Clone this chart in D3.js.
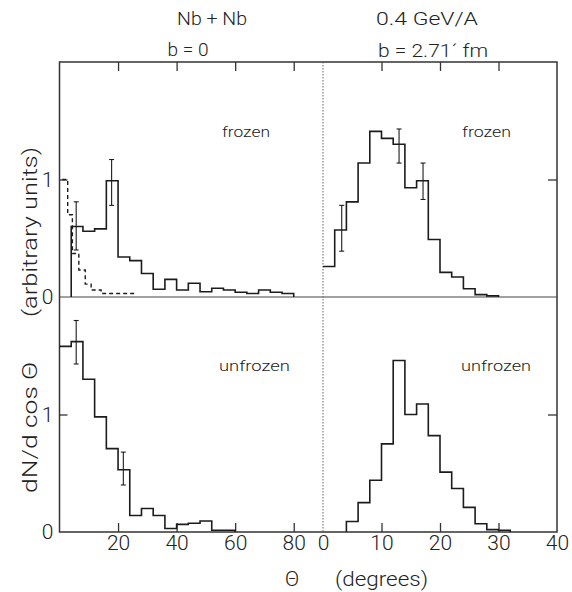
<!DOCTYPE html>
<html>
<head>
<meta charset="utf-8">
<script src="https://cdn.jsdelivr.net/npm/d3@7"></script>
<style>
  html, body { margin: 0; padding: 0; background: #fff; }
  svg { display: block; }
  text { font-family: Roboto, "Liberation Sans", Arial, sans-serif; font-weight: 300; fill: #222; }
</style>
</head>
<body>
<svg id="chart" width="572" height="592"></svg>
<script>
// ---------------- data ----------------
// top-left: b = 0, frozen (solid histogram, 4-degree bins)
const frozenB0Edges = [4, 8, 12, 16, 20, 24, 28, 32, 36, 40, 44, 48, 52, 56, 60, 64, 68, 72, 76, 80];
const frozenB0Values = [0.60, 0.56, 0.58, 0.99, 0.34, 0.31, 0.20, 0.066, 0.15, 0.06, 0.117, 0.045, 0.074, 0.06, 0.04, 0.03, 0.06, 0.04, 0.03];
// top-left: dashed histogram
const dashedB0Edges = [0.9, 2.8, 4.4, 6.6, 8.8, 10.8, 14.2, 26.5];
const dashedB0Values = [1.0, 0.70, 0.37, 0.23, 0.11, 0.06, 0.03];
// top-left error bars
const errFrozenB0Theta = [5.7, 17.8];
const errFrozenB0Lo = [0.40, 0.78];
const errFrozenB0Hi = [0.81, 1.17];

// top-right: b = 2.71 fm, frozen (2-degree bins)
const frozenB271Edges = [0, 2, 4, 6, 8, 10, 12, 14, 16, 18, 20, 22, 24, 26, 28, 30];
const frozenB271Values = [0.26, 0.57, 0.81, 1.14, 1.41, 1.35, 1.30, 0.93, 0.99, 0.49, 0.21, 0.17, 0.07, 0.02, 0.01];
const errFrozenB271Theta = [3.2, 13.0, 17.1];
const errFrozenB271Lo = [0.39, 1.14, 0.83];
const errFrozenB271Hi = [0.78, 1.43, 1.14];

// bottom-left: b = 0, unfrozen (4-degree bins)
const unfrozenB0Edges = [0, 4, 8, 12, 16, 20, 24, 28, 32, 36, 40, 44, 48, 52, 56, 60];
const unfrozenB0Values = [1.58, 1.62, 1.30, 0.98, 0.71, 0.53, 0.14, 0.20, 0.14, 0.03, 0.065, 0.075, 0.093, 0.015, 0.015];
const errUnfrozenB0Theta = [5.7, 21.8];
const errUnfrozenB0Lo = [1.43, 0.40];
const errUnfrozenB0Hi = [1.80, 0.68];

// bottom-right: b = 2.71 fm, unfrozen (2-degree bins)
const unfrozenB271Edges = [4, 6, 8, 10, 12, 14, 16, 18, 20, 22, 24, 26, 28, 30, 32];
const unfrozenB271Values = [0.09, 0.25, 0.44, 0.75, 1.46, 1.00, 1.09, 0.82, 0.51, 0.37, 0.21, 0.07, 0.02, 0.015];

// tick values / labels
const leftXTicks = [20, 40, 60, 80];
const rightXLabelTicks = [0, 10, 20, 30, 40];
const rightXTicks = [10, 20, 30];
const yLabelTicks = [0, 1];

// ---------------- layout ----------------
const svg = d3.select("#chart");
const L = 59.5, R = 557, M = 323, T = 62, H = 297, B = 532;

const xL = d3.scaleLinear().domain([0, 90]).range([L, M]);
const xR = d3.scaleLinear().domain([0, 40]).range([M, R]);
const yT = d3.scaleLinear().domain([0, 2]).range([H, T]);
const yB = d3.scaleLinear().domain([0, 2]).range([B, H]);

const ink = "#1c1c1c";
const FONT = "Roboto, 'Liberation Sans', Arial, sans-serif";

// frame
svg.append("rect").attr("x", L).attr("y", T).attr("width", R - L).attr("height", B - T)
  .attr("fill", "none").attr("stroke", "#333").attr("stroke-width", 1.5);
// middle horizontal line
svg.append("line").attr("x1", L).attr("x2", R).attr("y1", H).attr("y2", H)
  .attr("stroke", "#444").attr("stroke-width", 1);
// vertical divider (dotted)
svg.append("line").attr("x1", M).attr("x2", M).attr("y1", T).attr("y2", B)
  .attr("stroke", "#666").attr("stroke-width", 1).attr("stroke-dasharray", "1.5,1.5");

// ---------------- axes ----------------
function styleAxis(g) {
  g.select(".domain").remove();
  g.selectAll(".tick line").attr("stroke", "#333").attr("stroke-width", 1.3);
  g.selectAll(".tick text").style("font-family", FONT).style("font-weight", 300)
    .style("font-size", "21px").attr("fill", "#222");
}
// top edge ticks (pointing down)
svg.append("g").attr("transform", `translate(0,${T})`)
  .call(d3.axisBottom(xL).tickValues(leftXTicks).tickSizeInner(9).tickSizeOuter(0).tickFormat(""))
  .call(styleAxis);
svg.append("g").attr("transform", `translate(0,${T})`)
  .call(d3.axisBottom(xR).tickValues(rightXTicks).tickSizeInner(9).tickSizeOuter(0).tickFormat(""))
  .call(styleAxis);
// bottom edge ticks (pointing up) with labels
svg.append("g").attr("transform", `translate(0,${B})`)
  .call(d3.axisBottom(xL).tickValues(leftXTicks).tickSizeInner(-9).tickSizeOuter(0).tickPadding(3).tickFormat(d3.format("d")))
  .call(styleAxis);
const gxr = svg.append("g").attr("transform", `translate(0,${B})`)
  .call(d3.axisBottom(xR).tickValues(rightXLabelTicks).tickSizeInner(-9).tickSizeOuter(0).tickPadding(3).tickFormat(d3.format("d")))
  .call(styleAxis);
gxr.selectAll(".tick").filter(d => !rightXTicks.includes(d)).select("line").remove();

// left y ticks (inward) with labels
[yT, yB].forEach(ys => {
  const g = svg.append("g").attr("transform", `translate(${L},0)`)
    .call(d3.axisLeft(ys).tickValues(yLabelTicks).tickSizeInner(-8).tickSizeOuter(0).tickPadding(6).tickFormat(d3.format("d")))
    .call(styleAxis);
  g.selectAll(".tick").filter(d => d === 0).select("line").remove();
  // right edge ticks
  svg.append("g").attr("transform", `translate(${R},0)`)
    .call(d3.axisRight(ys).tickValues([1]).tickSizeInner(-9).tickSizeOuter(0).tickFormat(""))
    .call(styleAxis);
});

// ---------------- histograms ----------------
function stepPoints(edges, values, fromZero, toZero) {
  const pts = [];
  if (fromZero) pts.push([edges[0], 0]);
  values.forEach((v, i) => { pts.push([edges[i], v]); pts.push([edges[i + 1], v]); });
  if (toZero) pts.push([edges[edges.length - 1], 0]);
  return pts;
}
function drawHist(xs, ys, edges, values, fromZero, toZero, dashed) {
  const line = d3.line().x(d => xs(d[0])).y(d => ys(d[1]));
  svg.append("path").attr("d", line(stepPoints(edges, values, fromZero, toZero)))
    .attr("fill", "none").attr("stroke", ink).attr("stroke-width", dashed ? 1.4 : 1.6)
    .attr("stroke-linejoin", "miter")
    .attr("stroke-dasharray", dashed ? "4,3" : null);
}
function drawErr(xs, ys, th, lo, hi) {
  const g = svg.append("g").attr("stroke", ink).attr("stroke-width", 1.1);
  th.forEach((t, i) => {
    const x = xs(t);
    g.append("line").attr("x1", x).attr("x2", x).attr("y1", ys(lo[i])).attr("y2", ys(hi[i]));
    g.append("line").attr("x1", x - 2.5).attr("x2", x + 2.5).attr("y1", ys(lo[i])).attr("y2", ys(lo[i]));
    g.append("line").attr("x1", x - 2.5).attr("x2", x + 2.5).attr("y1", ys(hi[i])).attr("y2", ys(hi[i]));
  });
}

drawHist(xL, yT, frozenB0Edges, frozenB0Values, true, true, false);
drawHist(xL, yT, dashedB0Edges, dashedB0Values, false, false, true);
drawErr(xL, yT, errFrozenB0Theta, errFrozenB0Lo, errFrozenB0Hi);

drawHist(xR, yT, frozenB271Edges, frozenB271Values, false, true, false);
drawErr(xR, yT, errFrozenB271Theta, errFrozenB271Lo, errFrozenB271Hi);

drawHist(xL, yB, unfrozenB0Edges, unfrozenB0Values, false, true, false);
drawErr(xL, yB, errUnfrozenB0Theta, errUnfrozenB0Lo, errUnfrozenB0Hi);

drawHist(xR, yB, unfrozenB271Edges, unfrozenB271Values, true, true, false);

// ---------------- texts ----------------
function txt(x, y, s, size, opts = {}) {
  const t = svg.append("text").attr("x", x).attr("y", y).text(s)
    .style("font-size", size + "px")
    .attr("text-anchor", opts.anchor || "middle");
  if (opts.len) t.attr("textLength", opts.len).attr("lengthAdjust", "spacingAndGlyphs");
  if (opts.transform) t.attr("transform", opts.transform);
  return t;
}
txt(212, 25, "Nb + Nb", 18, { len: 70 });
txt(188, 56, "b = 0", 18, { len: 41 });
txt(427, 25, "0.4  GeV/A", 18, { len: 102 });
txt(433, 57, "b = 2.71´ fm", 18, { len: 110 });

txt(222, 137, "frozen", 14, { anchor: "start", len: 48 });
txt(462, 137, "frozen", 14, { anchor: "start", len: 49 });
txt(219, 371, "unfrozen", 14, { anchor: "start", len: 71 });
txt(461, 371, "unfrozen", 14, { anchor: "start", len: 70 });

// y-axis title (rotated)
txt(0, 0, "dN/d cos Θ", 21, { len: 131, transform: "translate(37,427.5) rotate(-90)" });
txt(0, 0, "(arbitrary units)", 21, { len: 170, transform: "translate(37,232) rotate(-90)" });

// x-axis title
txt(292, 586, "Θ", 21);
txt(335, 586, "(degrees)", 21, { anchor: "start", len: 93 });
</script>
</body>
</html>
